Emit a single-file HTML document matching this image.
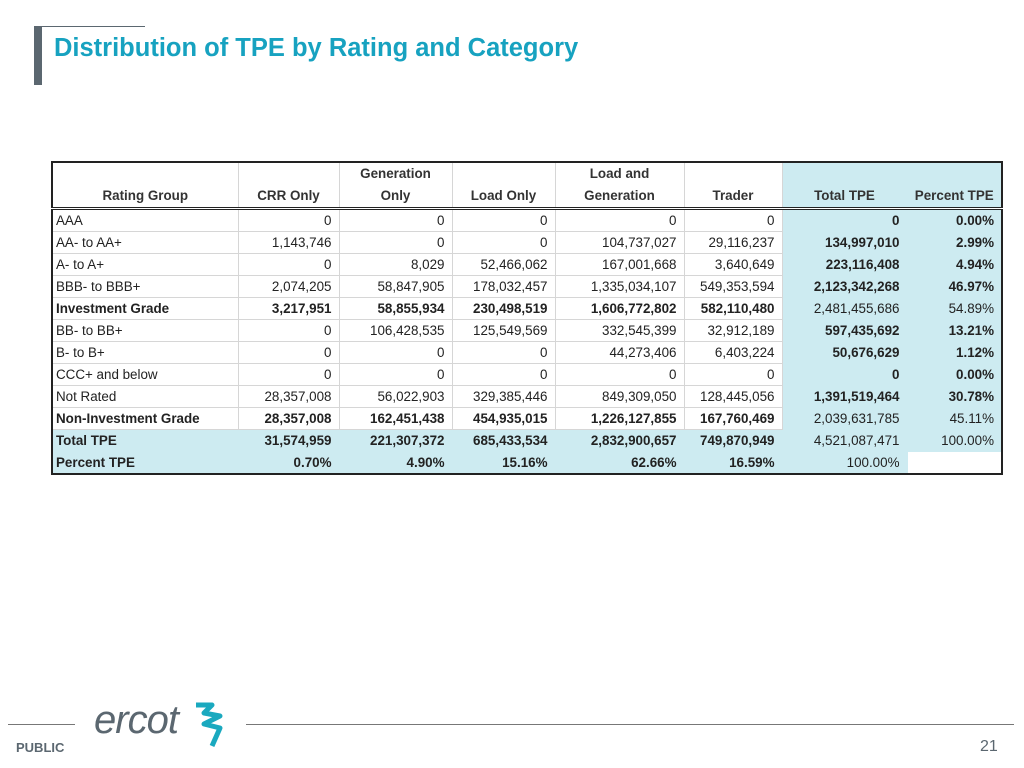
<!DOCTYPE html>
<html><head><meta charset="utf-8"><style>
body{margin:0;width:1024px;height:768px;background:#fff;position:relative;overflow:hidden;font-family:"Liberation Sans",Arial,sans-serif}
.bar{position:absolute;left:34px;top:26px;width:8px;height:59px;background:#5b6770}
.tl{position:absolute;left:34px;top:26px;width:111px;height:1px;background:#5b6770}
h1{position:absolute;left:54px;top:34px;margin:0;font-size:25.5px;font-weight:bold;color:#17a2c0}
table{position:absolute;left:51px;top:161px;border-collapse:collapse;border:2px solid #222;font-size:13.4px;color:#222;table-layout:fixed;width:950px}
td,th{height:21px;padding:0 7px 0 3px;border:1px solid #d6d6d6;white-space:nowrap;overflow:hidden}
th{font-weight:bold;text-align:center;vertical-align:bottom;height:44px;line-height:22px;padding:0 2px 0;border-top:none;color:#333}
thead tr{border-bottom:3px double #222}
td{text-align:right}
td:first-child{text-align:left}
.b td{font-weight:bold}
.blue{background:#cdebf1;border-color:#cdebf1}
.white{background:#fff;border-color:#fff}
.footl{position:absolute;top:724px;height:1px;background:#777}
</style></head><body>
<div class="tl"></div>
<div class="bar"></div>
<h1>Distribution of TPE by Rating and Category</h1>
<table>
<colgroup><col style="width:186px"><col style="width:101px"><col style="width:113px"><col style="width:103px"><col style="width:129px"><col style="width:98px"><col style="width:125px"><col style="width:95px"></colgroup>
<thead><tr>
<th>Rating Group</th><th>CRR Only</th><th>Generation<br>Only</th><th>Load Only</th><th>Load and<br>Generation</th><th>Trader</th><th class="blue">Total TPE</th><th class="blue">Percent TPE</th></tr></thead>
<tbody>
<tr><td>AAA</td><td>0</td><td>0</td><td>0</td><td>0</td><td>0</td><td class="blue"><b>0</b></td><td class="blue"><b>0.00%</b></td></tr>
<tr><td>AA- to AA+</td><td>1,143,746</td><td>0</td><td>0</td><td>104,737,027</td><td>29,116,237</td><td class="blue"><b>134,997,010</b></td><td class="blue"><b>2.99%</b></td></tr>
<tr><td>A- to A+</td><td>0</td><td>8,029</td><td>52,466,062</td><td>167,001,668</td><td>3,640,649</td><td class="blue"><b>223,116,408</b></td><td class="blue"><b>4.94%</b></td></tr>
<tr><td>BBB- to BBB+</td><td>2,074,205</td><td>58,847,905</td><td>178,032,457</td><td>1,335,034,107</td><td>549,353,594</td><td class="blue"><b>2,123,342,268</b></td><td class="blue"><b>46.97%</b></td></tr>
<tr class="b"><td>Investment Grade</td><td>3,217,951</td><td>58,855,934</td><td>230,498,519</td><td>1,606,772,802</td><td>582,110,480</td><td class="blue" style="font-weight:normal">2,481,455,686</td><td class="blue" style="font-weight:normal">54.89%</td></tr>
<tr><td>BB- to BB+</td><td>0</td><td>106,428,535</td><td>125,549,569</td><td>332,545,399</td><td>32,912,189</td><td class="blue"><b>597,435,692</b></td><td class="blue"><b>13.21%</b></td></tr>
<tr><td>B- to B+</td><td>0</td><td>0</td><td>0</td><td>44,273,406</td><td>6,403,224</td><td class="blue"><b>50,676,629</b></td><td class="blue"><b>1.12%</b></td></tr>
<tr><td>CCC+ and below</td><td>0</td><td>0</td><td>0</td><td>0</td><td>0</td><td class="blue"><b>0</b></td><td class="blue"><b>0.00%</b></td></tr>
<tr><td>Not Rated</td><td>28,357,008</td><td>56,022,903</td><td>329,385,446</td><td>849,309,050</td><td>128,445,056</td><td class="blue"><b>1,391,519,464</b></td><td class="blue"><b>30.78%</b></td></tr>
<tr class="b"><td>Non-Investment Grade</td><td>28,357,008</td><td>162,451,438</td><td>454,935,015</td><td>1,226,127,855</td><td>167,760,469</td><td class="blue" style="font-weight:normal">2,039,631,785</td><td class="blue" style="font-weight:normal">45.11%</td></tr>
<tr class="b"><td class="blue">Total TPE</td><td class="blue">31,574,959</td><td class="blue">221,307,372</td><td class="blue">685,433,534</td><td class="blue">2,832,900,657</td><td class="blue">749,870,949</td><td class="blue" style="font-weight:normal">4,521,087,471</td><td class="blue" style="font-weight:normal">100.00%</td></tr>
<tr class="b"><td class="blue">Percent TPE</td><td class="blue">0.70%</td><td class="blue">4.90%</td><td class="blue">15.16%</td><td class="blue">62.66%</td><td class="blue">16.59%</td><td class="blue" style="font-weight:normal">100.00%</td><td class="white"></td></tr>
</tbody></table>
<div class="footl" style="left:8px;width:67px"></div>
<div class="footl" style="left:246px;width:768px"></div>
<div style="position:absolute;left:94px;top:698px;font-size:40px;font-style:italic;color:#5b6770;letter-spacing:-1px">ercot</div>
<svg style="position:absolute;left:190px;top:702px" width="36" height="48" viewBox="0 0 36 48"><path d="M6 3 L22 3 L14 11 L30 14 L14 22 L30 26 L22 44" fill="none" stroke="#1aa9bf" stroke-width="5" stroke-linejoin="round"/></svg>
<div style="position:absolute;left:16px;top:740px;font-size:13px;font-weight:bold;color:#5b6770">PUBLIC</div>
<div style="position:absolute;left:980px;top:738px;font-size:16px;color:#5b6770">21</div>
</body></html>
